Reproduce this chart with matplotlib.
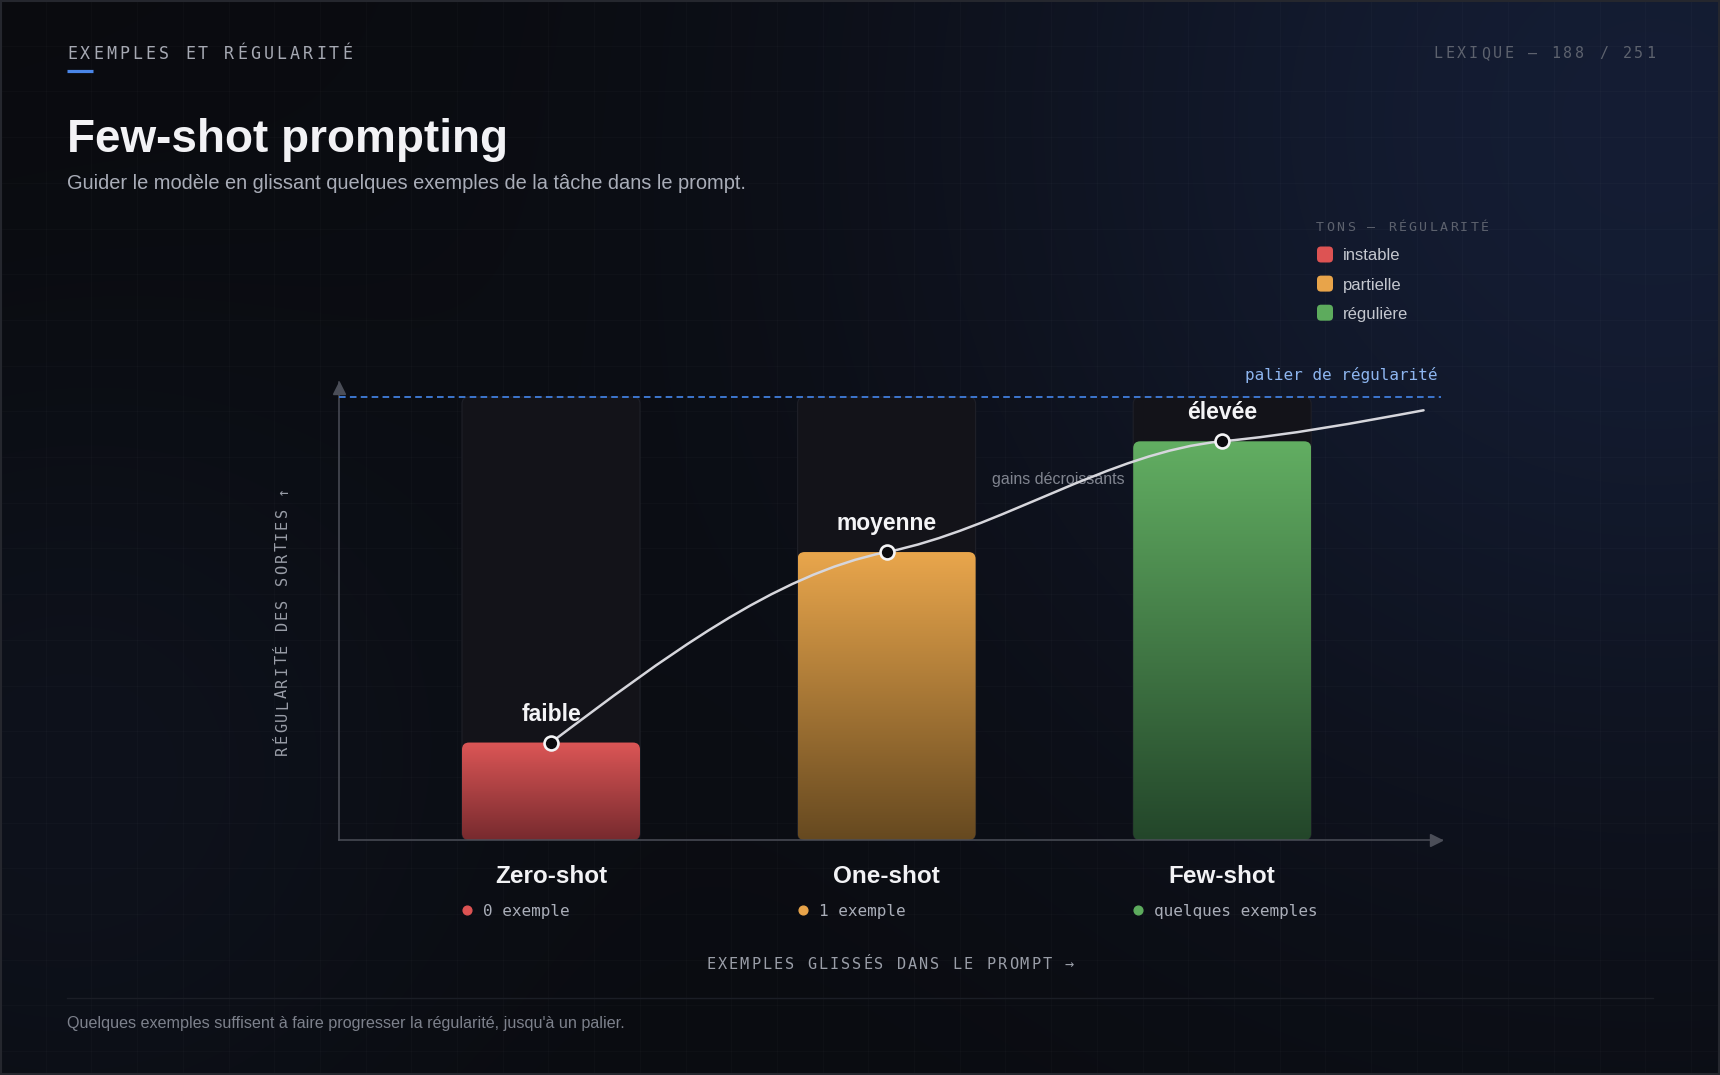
import numpy as np
import matplotlib.pyplot as plt
from matplotlib.patches import FancyBboxPatch, Rectangle, PathPatch
from matplotlib.path import Path
from matplotlib.transforms import offset_copy
from matplotlib.colors import to_rgb

plt.rcParams['font.family'] = ['Liberation Sans', 'DejaVu Sans']
MONO = ['DejaVu Sans Mono']

# --- données ---
categories = ["Zero-shot", "One-shot", "Few-shot"]
examples = ["0 exemple", "1 exemple", "quelques exemples"]
levels = [22, 65, 90]
level_labels = ["faible", "moyenne", "élevée"]
plateau = 100
trend_x = [0, 1, 2, 2.6]
trend_y = [22, 65, 90, 97]
tone_names = ["instable", "partielle", "régulière"]
tone_colors = ["#dd5353", "#e8a44a", "#5dab5d"]
bar_top = ["#dc5656", "#e9a64c", "#62ae62"]
bar_bottom = ["#772a2e", "#664920", "#23462a"]

# --- mise en page (pixels) ---
W, H = 1720, 1075
AX_L, AX_R, AX_T, AX_B = 339, 1442, 382, 840
PLATEAU_PX = 397
STEP_PX = 335.6
FIRST_PX = 551
BAR_PX = 178
R_PX = 7

fig = plt.figure(figsize=(W / 100, H / 100), dpi=100, facecolor="#0b0c10")
bg = fig.add_axes([0, 0, 1, 1])
bg.set_xlim(0, W)
bg.set_ylim(H, 0)
bg.axis('off')

# fond : base sombre + lueurs bleutées
ny, nx = 215, 344
yy, xx = np.mgrid[0:ny, 0:nx] * 5.0
base = np.array(to_rgb("#0a0b0f"))
g1 = np.array(to_rgb("#16203a"))
g2 = np.array(to_rgb("#121a2b"))
w1 = 0.85 * np.exp(-((xx - 1650) ** 2 + (yy - 120) ** 2) / (2 * 520.0 ** 2))
w2 = 0.45 * np.exp(-((xx - 60) ** 2 + (yy - 780) ** 2) / (2 * 300.0 ** 2))
img = base + (g1 - base) * w1[..., None] + (g2 - base) * w2[..., None]
bg.imshow(np.clip(img, 0, 1), extent=(0, W, H, 0), interpolation='bilinear',
          aspect='auto', zorder=0)

for gx in np.arange(0, W, 45.7):
    bg.axvline(gx, color='white', alpha=0.02, lw=0.8, zorder=0.5)
for gy in np.arange(0, H, 45.7):
    bg.axhline(gy, color='white', alpha=0.02, lw=0.8, zorder=0.5)
bg.add_patch(Rectangle((1, 1), W - 2, H - 2, fill=False, ec="#25272e", lw=1.5, zorder=1))
bg.plot([67, 1653], [998, 998], color="#1b1e26", lw=1, zorder=1)


def spaced(x, y, s, size, step, ha='left', color="#a6a9b3", vertical=False):
    """Texte mono avec espacement des lettres (x,y = ligne de base)."""
    adv = 0.602 * size / 0.72
    span = step * (len(s) - 1)
    if ha == 'left':
        c0 = adv / 2
    elif ha == 'right':
        c0 = -adv / 2 - span
    else:
        c0 = -span / 2
    for i, ch in enumerate(s):
        if ch == ' ':
            continue
        d = c0 + i * step
        if vertical:
            bg.text(x, y - d, ch, rotation=90, rotation_mode='anchor', ha='center',
                    va='baseline', family=MONO, fontsize=size, color=color, zorder=3)
        else:
            bg.text(x + d, y, ch, ha='center', va='baseline', family=MONO,
                    fontsize=size, color=color, zorder=3)


# en-tête
spaced(67, 59, "EXEMPLES ET RÉGULARITÉ", 12, 13.1, color="#a6a9b3")
bg.plot([67, 93], [71, 71], color="#4a86e8", lw=2.3, solid_capstyle='butt', zorder=3)
spaced(1655, 58, "LEXIQUE — 188 / 251", 10.8, 11.8, ha='right', color="#5d626e")
bg.text(67, 152, "Few-shot prompting", fontsize=33, weight='bold', color="#f2f2f5",
        va='baseline', zorder=3)
bg.text(67, 189, "Guider le modèle en glissant quelques exemples de la tâche dans le prompt.",
        fontsize=14.4, color="#a9adb8", va='baseline', zorder=3)

# légende
spaced(1316, 231, "TONS — RÉGULARITÉ", 9.5, 10.3, color="#5d626e")
for i, (name, col) in enumerate(zip(tone_names, tone_colors)):
    yc = 254.5 + i * 29.1
    bg.add_patch(FancyBboxPatch((1317, yc - 8), 16, 16, boxstyle="round,pad=0,rounding_size=4",
                                fc=col, ec='none', zorder=3))
    bg.text(1343, yc + 6, name, fontsize=12, color="#c4c7cf", va='baseline', zorder=3)

# titres d'axes et pied de page
spaced(287, 620, "RÉGULARITÉ DES SORTIES ↑", 11, 11.3, ha='center', color="#9a9ea8",
       vertical=True)
spaced(890, 969, "EXEMPLES GLISSÉS DANS LE PROMPT →", 11, 11.2, ha='center', color="#9a9ea8")
bg.text(67, 1028, "Quelques exemples suffisent à faire progresser la régularité, jusqu'à un palier.",
        fontsize=11.6, color="#7d818c", va='baseline', zorder=3)

# --- graphique ---
ax = fig.add_axes([AX_L / W, 1 - AX_B / H, (AX_R - AX_L) / W, (AX_B - AX_T) / H], zorder=2)
ax.patch.set_alpha(0)
xlim = ((AX_L - FIRST_PX) / STEP_PX, (AX_R - FIRST_PX) / STEP_PX)
ylim = (0, plateau * (AX_B - AX_T) / (AX_B - PLATEAU_PX))
ypp = ylim[1] / (AX_B - AX_T)            # unités y par pixel
bar_w = BAR_PX / STEP_PX
rx = R_PX / STEP_PX
aspect = ypp * STEP_PX

for s in ['top', 'right']:
    ax.spines[s].set_visible(False)
for s in ['left', 'bottom']:
    ax.spines[s].set_color("#4b4e58")
    ax.spines[s].set_linewidth(1.1)
ax.set_xticks([])
ax.set_yticks([])
ax.plot([0], [1], marker='^', ms=8.5, color="#4b4e58", clip_on=False,
        transform=offset_copy(ax.transAxes, fig=fig, x=0, y=-6, units='dots'))
ax.plot([1], [0], marker='>', ms=8.5, color="#4b4e58", clip_on=False,
        transform=offset_copy(ax.transAxes, fig=fig, x=-6, y=0, units='dots'))

for i, lvl in enumerate(levels):
    x0 = i - bar_w / 2
    track = FancyBboxPatch((x0, 0), bar_w, plateau,
                           boxstyle=f"round,pad=0,rounding_size={rx}",
                           mutation_aspect=aspect, fc="#131319", ec="#1f2028", lw=0.8, zorder=1)
    ax.add_patch(track)
    bar = FancyBboxPatch((x0, 0), bar_w, lvl, boxstyle=f"round,pad=0,rounding_size={rx}",
                         mutation_aspect=aspect, fc='none', ec='none', zorder=2)
    ax.add_patch(bar)
    t = np.linspace(0, 1, 256)[:, None, None]
    grad = np.array(to_rgb(bar_bottom[i])) * (1 - t) + np.array(to_rgb(bar_top[i])) * t
    grad = np.repeat(grad, 2, axis=1)
    im = ax.imshow(grad, extent=(x0, x0 + bar_w, 0, lvl), origin='lower', aspect='auto',
                   interpolation='bilinear', zorder=2)
    im.set_clip_path(bar)

    ax.annotate(level_labels[i], (i, lvl), xytext=(0, 22 * 0.72), textcoords='offset points',
                ha='center', va='baseline', fontsize=16.5, weight='bold', color="#f4f4f6",
                zorder=6)
    ax.annotate(categories[i], (i, 0), xytext=(0, -43 * 0.72), textcoords='offset points',
                ha='center', va='baseline', fontsize=17.5, weight='bold', color="#f2f2f5",
                annotation_clip=False)
    ax.plot([x0], [0], marker='o', ms=6.3, color=tone_colors[i], clip_on=False,
            transform=offset_copy(ax.transData, fig=fig, x=5, y=-70, units='dots'))
    ax.annotate(examples[i], (x0, 0), xytext=(21 * 0.72, -76 * 0.72), textcoords='offset points',
                ha='left', va='baseline', family=MONO, fontsize=11.5, color="#a9adb8",
                annotation_clip=False)

ax.axhline(plateau, xmin=0, xmax=0.999, color="#3d76cf", lw=1.4, dashes=(3.4, 2.2), zorder=3)
ax.text(0.996, plateau, "palier de régularité", family=MONO, fontsize=11.5, color="#8db5ef",
        ha='right', va='center',
        transform=offset_copy(ax.get_yaxis_transform(), fig=fig, x=0, y=22, units='dots'))
ax.text(1.314, 81.3, "gains décroissants", fontsize=11.5, color="#80848f", ha='left',
        va='center', zorder=3)

# courbe lissée (Hermite -> Bézier)
tx, ty = np.array(trend_x, float), np.array(trend_y, float)
sec = np.diff(ty) / np.diff(tx)
m = np.zeros_like(ty)
for k in range(1, len(ty) - 1):
    if sec[k - 1] * sec[k] > 0:
        m[k] = 0.6 * min(abs(sec[k - 1]), abs(sec[k])) * np.sign(sec[k])
m[0] = (3 * sec[0] - m[1]) / 2
m[-1] = (3 * sec[-1] - m[-2]) / 2
verts = [(tx[0], ty[0])]
codes = [Path.MOVETO]
for k in range(len(tx) - 1):
    dx = tx[k + 1] - tx[k]
    verts += [(tx[k] + dx / 3, ty[k] + m[k] * dx / 3),
              (tx[k + 1] - dx / 3, ty[k + 1] - m[k + 1] * dx / 3),
              (tx[k + 1], ty[k + 1])]
    codes += [Path.CURVE4] * 3
ax.add_patch(PathPatch(Path(verts, codes), fill=False, ec="#d6d6dc", lw=1.8, zorder=4,
                       capstyle='round'))
ax.plot(range(len(levels)), levels, 'o', ms=10, mfc="#0b0b0f", mec="#f4f4f6", mew=1.9, zorder=5)

ax.set_xlim(*xlim)
ax.set_ylim(*ylim)

fig.savefig("out.png", dpi=100, facecolor=fig.get_facecolor())
